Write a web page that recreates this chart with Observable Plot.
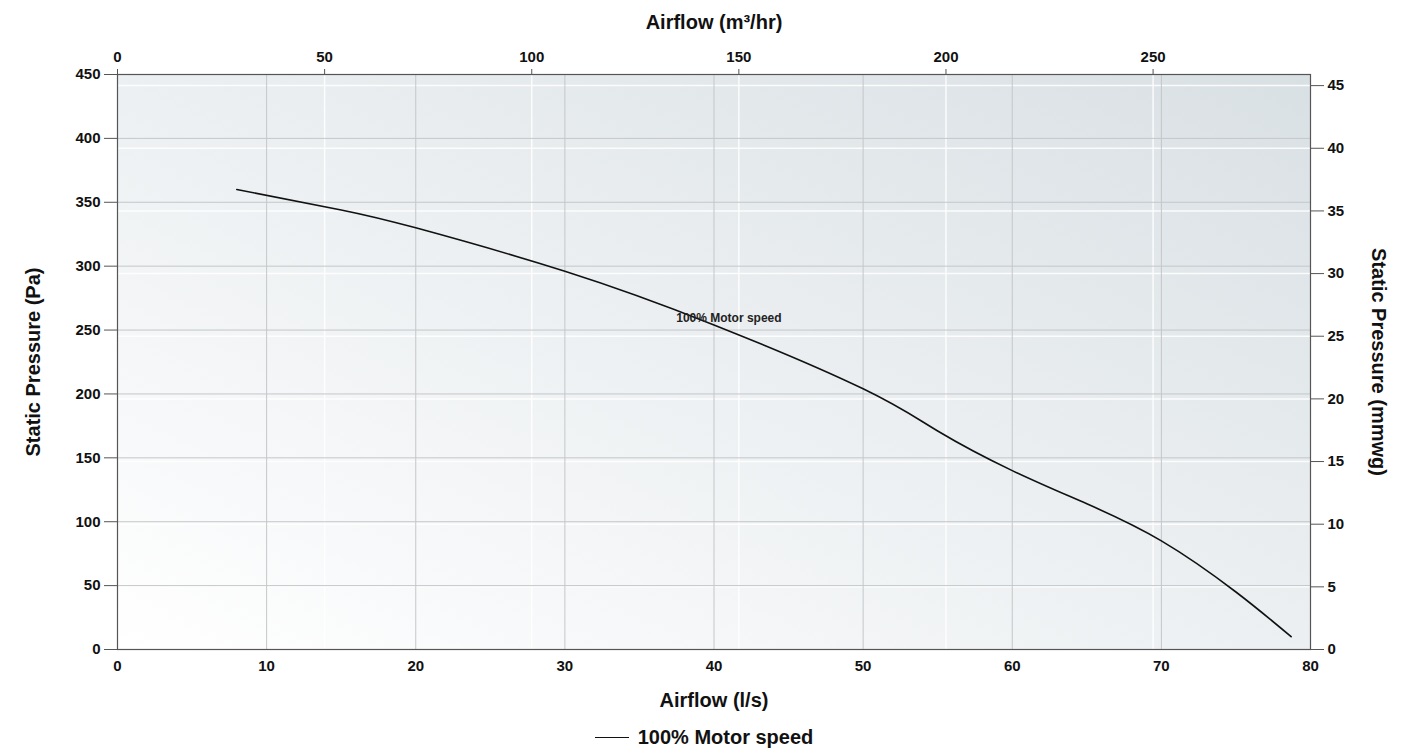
<!DOCTYPE html>
<html>
<head>
<meta charset="utf-8">
<script src="https://cdn.jsdelivr.net/npm/d3@7"></script>
<script src="https://cdn.jsdelivr.net/npm/@observablehq/plot@0.6"></script>
<style>
  body { margin: 0; background: #fff; font-family: "Liberation Sans", Arial, sans-serif; }
  #legend { height: 29px; display: flex; justify-content: center; align-items: center; font-weight: bold; font-size: 20px; color: #111; margin-top: 3px; padding-right: 12px; }
  #legend .sw { width: 34px; height: 0; border-top: 1.6px solid #111; margin-right: 9px; }
</style>
</head>
<body>
<div id="chart"></div>
<div id="legend"><span class="sw"></span><span>100% Motor speed</span></div>
<script>
// Airflow (l/s) and static pressure (Pa)
const airflowLs = [8, 15, 20, 30, 40, 50, 55, 60, 65, 70, 75, 78.7];
const pressurePa = [360, 344, 330, 296, 254, 204, 171, 140, 114, 85, 45, 10];

const seriesName = "100% Motor speed";
const bottomTicks = [0, 10, 20, 30, 40, 50, 60, 70, 80];        // l/s
const leftTicks = [0, 50, 100, 150, 200, 250, 300, 350, 400, 450]; // Pa
const topTicks = [0, 50, 100, 150, 200, 250];                      // m³/hr
const rightTicks = [0, 5, 10, 15, 20, 25, 30, 35, 40, 45];         // mmwg

const LS_TO_M3H = 3.6;
const MMWG_TO_PA = 9.80665;

const data = airflowLs.map((x, i) => ({x, y: pressurePa[i]}));
const topPos = topTicks.map(m => m / LS_TO_M3H);
const rightPos = rightTicks.map(m => m * MMWG_TO_PA);

const titleOpts = {text: d => d, fontSize: 20, fontWeight: "bold", fill: "#111", textAnchor: "middle", lineAnchor: "middle"};

const plot = Plot.plot({
  width: 1420,
  height: 720,
  marginLeft: 117,
  marginRight: 110,
  marginTop: 74,
  marginBottom: 71,
  style: {fontFamily: "'Liberation Sans', Arial, sans-serif", fontSize: "15px", fontWeight: "bold", color: "#111", background: "transparent"},
  x: {domain: [0, 80]},
  y: {domain: [0, 450]},
  marks: [
    Plot.frame({fill: "url(#bggrad)", stroke: null}),
    // white grid from secondary axes
    Plot.ruleX(topPos.slice(1), {stroke: "#ffffff", strokeWidth: 1.5, strokeOpacity: 0.85}),
    Plot.ruleY(rightPos.slice(1), {stroke: "#ffffff", strokeWidth: 1.5, strokeOpacity: 0.85}),
    // gray grid from primary axes
    Plot.ruleX(bottomTicks.slice(1, -1), {stroke: "#c4c7c9", strokeWidth: 1}),
    Plot.ruleY(leftTicks.slice(1, -1), {stroke: "#c4c7c9", strokeWidth: 1}),
    Plot.frame({stroke: "#555", strokeWidth: 1.2}),
    Plot.axisX(bottomTicks, {anchor: "bottom", tickSize: 0, tickPadding: 11, label: null, fontWeight: "bold"}),
    Plot.axisX(topPos, {anchor: "top", tickSize: 6, tickPadding: 7, label: null, stroke: "#555",
      tickFormat: d => String(Math.round(d * LS_TO_M3H)), fontWeight: "bold"}),
    Plot.axisY(leftTicks, {anchor: "left", tickSize: 13, tickPadding: 4, label: null, stroke: "#555", fontWeight: "bold"}),
    Plot.axisY(rightPos, {anchor: "right", tickSize: 13, tickPadding: 4, label: null, stroke: "#555",
      tickFormat: d => String(Math.round(d / MMWG_TO_PA)), fontWeight: "bold"}),
    Plot.line(data, {x: "x", y: "y", stroke: "#111", strokeWidth: 1.6, curve: "natural"}),
    Plot.text([seriesName], {x: 41, y: 259, text: d => d, fontSize: 12, fontWeight: "bold", fill: "#222"}),
    Plot.text(["Airflow (m³/hr)"], {frameAnchor: "top", dy: -52, ...titleOpts}),
    Plot.text(["Airflow (l/s)"], {frameAnchor: "bottom", dy: 51, ...titleOpts}),
    Plot.text(["Static Pressure (Pa)"], {frameAnchor: "left", dx: -84, rotate: -90, ...titleOpts}),
    Plot.text(["Static Pressure (mmwg)"], {frameAnchor: "right", dx: 68, rotate: 90, ...titleOpts})
  ]
});

const svg = d3.select(plot);
const defs = svg.insert("defs", ":first-child");
const grad = defs.append("linearGradient").attr("id", "bggrad")
  .attr("x1", 0).attr("y1", 1).attr("x2", 1).attr("y2", 0);
grad.append("stop").attr("offset", "0%").attr("stop-color", "#ffffff");
grad.append("stop").attr("offset", "100%").attr("stop-color", "#d9e0e4");

document.getElementById("chart").appendChild(plot);
</script>
</body>
</html>
